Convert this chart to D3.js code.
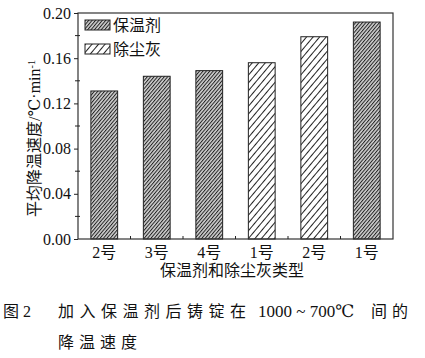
<!DOCTYPE html>
<html>
<head>
<meta charset="utf-8">
<script src="https://cdn.jsdelivr.net/npm/d3@7"></script>
<style>
  body { margin: 0; background: #fff; }
  svg { display: block; }
  text { font-family: "Times New Roman", "Liberation Serif", "DejaVu Serif", "Noto Sans CJK SC", serif; fill: #111; }
</style>
</head>
<body>
<svg id="chart" width="425" height="358"></svg>
<script>
// category labels along the x axis
const categories = ["2号", "3号", "4号", "1号", "2号", "1号"];
// which series each bar belongs to
const seriesOf = ["保温剂", "保温剂", "保温剂", "除尘灰", "除尘灰", "保温剂"];
// average cooling rate, °C/min
const rates = [0.131, 0.144, 0.149, 0.156, 0.179, 0.192];
const seriesNames = ["保温剂", "除尘灰"];
const yTicks = [0, 0.04, 0.08, 0.12, 0.16, 0.2];
const yMinorTicks = [0.02, 0.06, 0.1, 0.14, 0.18];

const svg = d3.select("#chart");
const margin = { left: 78, right: 32, top: 13, bottom: 119 };
const width = 425 - margin.left - margin.right;
const height = 358 - margin.top - margin.bottom;

// hatch patterns
const defs = svg.append("defs");
function hatch(id, gap, bg) {
  const p = defs.append("pattern")
    .attr("id", id)
    .attr("patternUnits", "userSpaceOnUse")
    .attr("width", gap)
    .attr("height", gap)
    .attr("patternTransform", "rotate(40)");
  p.append("rect").attr("width", gap).attr("height", gap).attr("fill", bg);
  p.append("line")
    .attr("x1", 0.5).attr("y1", 0)
    .attr("x2", 0.5).attr("y2", gap)
    .attr("stroke", "#222")
    .attr("stroke-width", 1);
}
hatch("dense", 2.6, "#d0d0d0");
hatch("sparse", 5, "#fff");
const fillFor = { "保温剂": "url(#dense)", "除尘灰": "url(#sparse)" };

const g = svg.append("g").attr("transform", `translate(${margin.left},${margin.top})`);

const x = d3.scaleBand()
  .domain(d3.range(categories.length))
  .range([0, width])
  .paddingInner(0.49)
  .paddingOuter(0.245);

const y = d3.scaleLinear().domain([0, 0.2]).range([height, 0]);

// bars
g.selectAll("rect.bar")
  .data(rates)
  .join("rect")
  .attr("class", "bar")
  .attr("x", (d, i) => x(i))
  .attr("y", (d) => y(d))
  .attr("width", x.bandwidth())
  .attr("height", (d) => y(0) - y(d))
  .attr("fill", (d, i) => fillFor[seriesOf[i]])
  .attr("stroke", "#222")
  .attr("stroke-width", 1);

// frame
g.append("rect")
  .attr("width", width)
  .attr("height", height)
  .attr("fill", "none")
  .attr("stroke", "#333")
  .attr("stroke-width", 1.2);

// y axis
const yAxis = g.append("g")
  .call(d3.axisLeft(y).tickValues(yTicks).tickFormat(d3.format(".2f")).tickSize(4).tickPadding(3));
yAxis.select(".domain").remove();
yAxis.selectAll("line").attr("stroke", "#222");
yAxis.selectAll("text")
  .attr("font-size", 16)
  .attr("font-family", null)
  .attr("fill", "#111");

g.selectAll("line.yminor")
  .data(yMinorTicks)
  .join("line")
  .attr("class", "yminor")
  .attr("x1", -3).attr("x2", 2)
  .attr("y1", (d) => y(d)).attr("y2", (d) => y(d))
  .attr("stroke", "#222");

// x axis: labels centred under bars, small inner ticks between bands
const step = x.step();
g.selectAll("line.xtick")
  .data(d3.range(1, categories.length))
  .join("line")
  .attr("class", "xtick")
  .attr("x1", (d) => x(d) - (step - x.bandwidth()) / 2)
  .attr("x2", (d) => x(d) - (step - x.bandwidth()) / 2)
  .attr("y1", height)
  .attr("y2", height - 3)
  .attr("stroke", "#222");

g.selectAll("text.xlab")
  .data(categories)
  .join("text")
  .attr("class", "xlab")
  .attr("x", (d, i) => x(i) + x.bandwidth() / 2)
  .attr("y", height + 19)
  .attr("text-anchor", "middle")
  .attr("font-size", 16)
  .text((d) => d);

// axis titles
g.append("text")
  .attr("x", 154)
  .attr("y", height + 37)
  .attr("text-anchor", "middle")
  .attr("font-size", 16)
  .text("保温剂和除尘灰类型");

const yt = svg.append("text")
  .attr("transform", "translate(40,217) rotate(-90)")
  .attr("font-size", 16);
yt.append("tspan").text("平均降温速度/℃·min");
yt.append("tspan").attr("dy", -5).attr("font-size", 10).text("-1");

// legend
const legend = g.append("g").attr("transform", "translate(7,7)");
seriesNames.forEach((s, i) => {
  const row = legend.append("g").attr("transform", `translate(0,${i * 24})`);
  row.append("rect")
    .attr("width", 25).attr("height", 10)
    .attr("fill", fillFor[s])
    .attr("stroke", "#222");
  row.append("text")
    .attr("x", 28).attr("y", 11)
    .attr("font-size", 16)
    .text(s);
});

// caption
const cap = svg.append("g").attr("font-size", 16);
cap.append("text").attr("x", 3).attr("y", 317).text("图 2");
cap.append("text").attr("x", 58).attr("y", 317).attr("letter-spacing", 5.5).text("加入保温剂后铸锭在");
cap.append("text").attr("x", 258).attr("y", 317).attr("font-size", 17).text("1000 ~ 700℃");
cap.append("text").attr("x", 371).attr("y", 317).attr("letter-spacing", 5).text("间的");
cap.append("text").attr("x", 58).attr("y", 348).attr("letter-spacing", 5).text("降温速度");
</script>
</body>
</html>
